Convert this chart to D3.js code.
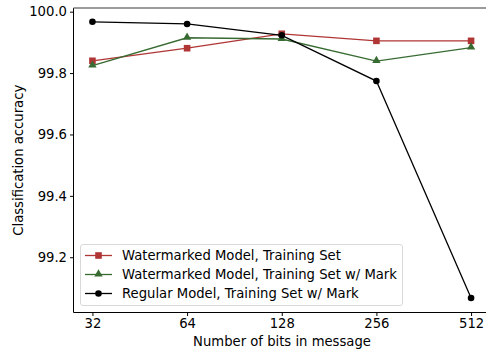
<!DOCTYPE html>
<html><head><meta charset="utf-8">
<script src="https://cdn.jsdelivr.net/npm/d3@7"></script>
<style>body{margin:0;background:#fff}text{font-family:"DejaVu Sans",sans-serif}</style>
</head><body><div id="c"></div>
<script>
const bits = [32, 64, 128, 256, 512];
const xTickLabels = ["32", "64", "128", "256", "512"];
const yTicks = [99.2, 99.4, 99.6, 99.8, 100.0];
const seriesNames = ["Watermarked Model, Training Set", "Watermarked Model, Training Set w/ Mark", "Regular Model, Training Set w/ Mark"];
const watermarkedTrain = [99.840, 99.881, 99.928, 99.905, 99.905];
const watermarkedMark = [99.824, 99.915, 99.911, 99.839, 99.883];
const regularMark = [99.967, 99.960, 99.923, 99.774, 99.067];
const colors = ["#b03535", "#386b32", "#000000"];
const markers = ["square", "triangle", "circle"];

const W = 486, H = 352;
const L = 73.5, R = 490, T = 8, B = 312.5;
const FS = 13.2;
const svg = d3.select("#c").append("svg").attr("width", W).attr("height", H);

const x = d3.scaleLog().base(2).domain([32 / Math.pow(2, 0.2), 512 * Math.pow(2, 0.2)]).range([L, R]);
const y = d3.scaleLinear().domain([99.02, 100.012]).range([B, T]);

const xAxis = d3.axisBottom(x).tickValues(bits).tickFormat((d, i) => xTickLabels[i]).tickSize(3.5).tickPadding(3);
const gx = svg.append("g").attr("transform", `translate(0,${B})`).call(xAxis);
gx.select(".domain").remove();
gx.selectAll("text").attr("font-size", FS).attr("fill", "#000");
gx.selectAll("line").attr("stroke", "#000");

const yAxis = d3.axisLeft(y).tickValues(yTicks).tickFormat(d3.format(".1f")).tickSize(3.5).tickPadding(3);
const gy = svg.append("g").attr("transform", `translate(${L},0)`).call(yAxis);
gy.select(".domain").remove();
gy.selectAll("text").attr("font-size", FS).attr("fill", "#000");
gy.selectAll("line").attr("stroke", "#000");

svg.append("line").attr("x1", L).attr("x2", L).attr("y1", T).attr("y2", B).attr("stroke", "#000");
svg.append("line").attr("x1", L).attr("x2", W).attr("y1", B).attr("y2", B).attr("stroke", "#000");
svg.append("line").attr("x1", L).attr("x2", W).attr("y1", T).attr("y2", T).attr("stroke", "#7a7a7a").attr("stroke-width", 1.3);

const all = [watermarkedTrain, watermarkedMark, regularMark];
const line = d3.line().x((d, i) => x(bits[i])).y(d => y(d));

function marker(g, type, cx, cy, color) {
  if (type === "square") g.append("rect").attr("x", cx - 3.3).attr("y", cy - 3.3).attr("width", 6.6).attr("height", 6.6).attr("fill", color);
  else if (type === "triangle") g.append("path").attr("d", d3.symbol().type(d3.symbolTriangle).size(30)()).attr("transform", `translate(${cx},${cy - 0.5})`).attr("fill", color);
  else g.append("circle").attr("cx", cx).attr("cy", cy).attr("r", 3.3).attr("fill", color);
}

all.forEach((vals, s) => {
  const g = svg.append("g");
  g.append("path").datum(vals).attr("d", line).attr("fill", "none").attr("stroke", colors[s]).attr("stroke-width", 1.3);
  vals.forEach((v, i) => marker(g, markers[s], x(bits[i]), y(v), colors[s]));
});

const lg = svg.append("g");
lg.append("rect").attr("x", 80.5).attr("y", 244.5).attr("width", 322).attr("height", 61).attr("rx", 2.5)
  .attr("fill", "#fff").attr("fill-opacity", 0.8).attr("stroke", "#d9d9d9");
seriesNames.forEach((n, s) => {
  const yy = 255.5 + s * 19;
  lg.append("line").attr("x1", 85).attr("x2", 112).attr("y1", yy).attr("y2", yy).attr("stroke", colors[s]).attr("stroke-width", 1.3);
  marker(lg, markers[s], 98.5, yy, colors[s]);
  lg.append("text").attr("x", 122).attr("y", yy + 4.5).attr("font-size", FS).attr("fill", "#000").text(n);
});

svg.append("text").attr("x", 282).attr("y", 346).attr("text-anchor", "middle").attr("font-size", FS).text("Number of bits in message");
svg.append("text").attr("transform", `translate(23,${(T + B) / 2}) rotate(-90)`).attr("text-anchor", "middle").attr("font-size", FS).text("Classification accuracy");
</script></body></html>
